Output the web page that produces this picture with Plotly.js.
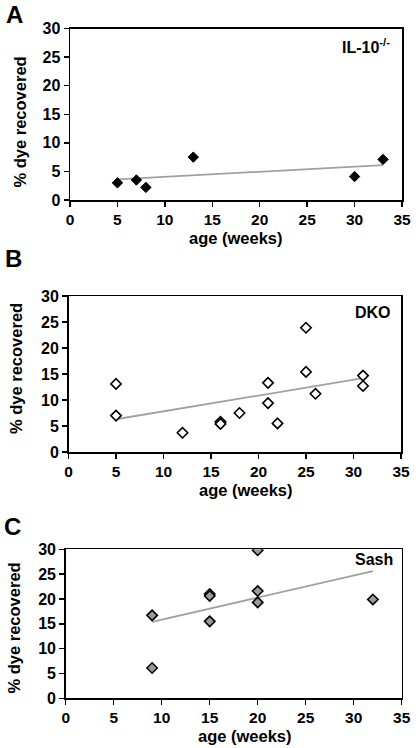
<!DOCTYPE html>
<html>
<head>
<meta charset="utf-8">
<script src="https://cdn.plot.ly/plotly-3.0.1.min.js"></script>
<style>html,body{margin:0;padding:0;background:#fff;}#chart{width:418px;height:748px;}</style>
</head>
<body>
<div id="chart"></div>
<script>
// Panel A: IL-10-/-
const ageA = [5, 7, 8, 13, 30, 33];
const dyeA = [3.0, 3.5, 2.2, 7.5, 4.1, 7.1];
const trendAgeA = [5, 33];
const trendDyeA = [3.6, 6.1];
// Panel B: DKO
const ageB = [5, 5, 12, 16, 16, 18, 21, 21, 22, 25, 25, 26, 31, 31];
const dyeB = [13.1, 7.0, 3.7, 5.8, 5.4, 7.5, 13.3, 9.4, 5.5, 23.9, 15.4, 11.2, 14.7, 12.7];
const trendAgeB = [5, 31];
const trendDyeB = [6.3, 14.2];
// Panel C: Sash
const ageC = [9, 9, 15, 15, 15, 20, 20, 20, 32];
const dyeC = [16.7, 6.1, 21.0, 20.6, 15.5, 29.8, 21.6, 19.3, 19.9];
const trendAgeC = [9, 32];
const trendDyeC = [15.4, 25.6];
// Axis ticks
const xTicks = [0, 5, 10, 15, 20, 25, 30, 35];
const yTicks = [0, 5, 10, 15, 20, 25, 30];
const panelLetters = ['A', 'B', 'C'];
const strainLabels = ['IL-10<sup>-/-</sup>', 'DKO', 'Sash'];
const xTitle = 'age (weeks)';
const yTitle = '% dye recovered';

const FONT = '"Liberation Sans", Arial, sans-serif';
const trendStyle = {color: '#a0a0a0', width: 1.8};

const traces = [
  {x: trendAgeA, y: trendDyeA, mode: 'lines', line: trendStyle, xaxis: 'x', yaxis: 'y', hoverinfo: 'skip'},
  {x: ageA, y: dyeA, mode: 'markers', xaxis: 'x', yaxis: 'y',
   marker: {symbol: 'diamond', size: 8, color: '#000', line: {color: '#000', width: 1}}},
  {x: trendAgeB, y: trendDyeB, mode: 'lines', line: trendStyle, xaxis: 'x2', yaxis: 'y2', hoverinfo: 'skip'},
  {x: ageB, y: dyeB, mode: 'markers', xaxis: 'x2', yaxis: 'y2',
   marker: {symbol: 'diamond', size: 8, color: '#fff', line: {color: '#000', width: 1.6}}},
  {x: trendAgeC, y: trendDyeC, mode: 'lines', line: trendStyle, xaxis: 'x3', yaxis: 'y3', hoverinfo: 'skip'},
  {x: ageC, y: dyeC, mode: 'markers', xaxis: 'x3', yaxis: 'y3',
   marker: {symbol: 'diamond', size: 8, color: '#9a9a9a', line: {color: '#000', width: 1.6}}}
];

const tf = (s) => ({family: FONT, size: s, color: '#000', weight: 700});
const bold = t => '<b>' + t + '</b>';

function xa(domain, anchor) {
  return {domain: domain, anchor: anchor, range: [0, 35], tickvals: xTicks, ticktext: xTicks.map(v => bold(v)),
    showline: true, mirror: true, linecolor: '#000', linewidth: 1.5, ticks: 'outside', ticklen: 5,
    tickwidth: 1.5, tickcolor: '#000', showgrid: false, zeroline: false, automargin: false,
    tickfont: tf(15.5), fixedrange: true};
}
function ya(domain, anchor) {
  return {domain: domain, anchor: anchor, range: [0, 30], tickvals: yTicks, ticktext: yTicks.map(v => bold(v)),
    showline: true, mirror: true, linecolor: '#000', linewidth: 1.5, ticks: 'outside', ticklen: 5,
    tickwidth: 1.5, tickcolor: '#000', showgrid: false, zeroline: false, automargin: false,
    tickfont: tf(16), fixedrange: true};
}

const W = 418, H = 748;
const px = v => v / W, py = v => 1 - v / H;

const annotations = [];
// panel letters
[[14.5, 14.5], [13.5, 258], [12, 526]].forEach((p, i) => {
  annotations.push({text: bold(panelLetters[i]), x: px(p[0]), y: py(p[1]), xref: 'paper', yref: 'paper',
    showarrow: false, xanchor: 'center', yanchor: 'middle', font: tf(24)});
});
// strain labels (right aligned)
[[392, 46], [393, 312.5], [395, 559]].forEach((p, i) => {
  annotations.push({text: bold(strainLabels[i]), x: px(p[0]), y: py(p[1]), xref: 'paper', yref: 'paper',
    showarrow: false, xanchor: 'right', yanchor: 'middle', font: tf(16)});
});
// x titles
[[236, 238], [246, 490], [245, 736]].forEach(p => {
  annotations.push({text: bold(xTitle), x: px(p[0]), y: py(p[1]), xref: 'paper', yref: 'paper',
    showarrow: false, xanchor: 'center', yanchor: 'middle', font: tf(16.5)});
});
// y titles
[[19, 122.5], [16, 369], [13, 628.5]].forEach(p => {
  annotations.push({text: bold(yTitle), x: px(p[0]), y: py(p[1]), xref: 'paper', yref: 'paper',
    showarrow: false, xanchor: 'center', yanchor: 'middle', textangle: -90, font: tf(16.5)});
});

const layout = {
  width: W, height: H, margin: {l: 0, r: 0, t: 0, b: 0},
  paper_bgcolor: '#fff', plot_bgcolor: '#fff', showlegend: false,
  font: {family: FONT, color: '#000'},
  xaxis: xa([px(70), px(402)], 'y'),
  yaxis: ya([py(200), py(28.5)], 'x'),
  xaxis2: xa([px(68.5), px(401)], 'y2'),
  yaxis2: ya([py(452), py(296)], 'x2'),
  xaxis3: xa([px(65.7), px(401.7)], 'y3'),
  yaxis3: ya([py(698.3), py(549.3)], 'x3'),
  annotations: annotations
};

Plotly.newPlot('chart', traces, layout, {displayModeBar: false, staticPlot: true});
</script>
</body>
</html>
